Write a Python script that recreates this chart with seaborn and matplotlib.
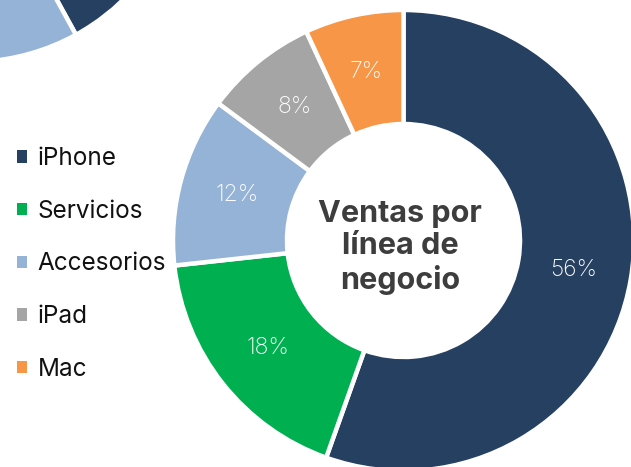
import matplotlib
matplotlib.use("Agg")
import matplotlib.pyplot as plt
import matplotlib.patches as mpatches
import seaborn as sns

# ---- data ----
categories = ["iPhone", "Servicios", "Accesorios", "iPad", "Mac"]
values = [56, 18, 12, 8, 7]
colors = ["#264061", "#00B050", "#95B3D7", "#A5A5A5", "#F79646"]
center_title = "Ventas por\nlínea de\nnegocio"
# partially visible neighbouring donut (cropped at top-left)
other_values = [42, 58]
other_colors = ["#264061", "#95B3D7"]

sns.set_theme(style="white")
plt.rcParams['font.family'] = ['Inter', 'DejaVu Sans']

W, H = 631, 467
fig = plt.figure(figsize=(W / 100, H / 100), dpi=100)
ax = fig.add_axes([0, 0, 1, 1])

total = sum(values)
R = 230.5
explode = [0.03, 0.015, 0, 0, 0]
wedges, texts, autotexts = ax.pie(
    values, colors=colors, startangle=90, counterclock=False,
    radius=R, center=(403.5, H - 240.5), explode=explode,
    wedgeprops=dict(width=114, edgecolor="white", linewidth=3.2),
    autopct=lambda p: f"{p * total / 100:.0f}%", pctdistance=0.75,
    textprops=dict(color="white", fontsize=16.5, fontweight="light"),
)

ax.pie(
    other_values, colors=other_colors, startangle=90, counterclock=False,
    radius=220, center=(-30, H + 158),
    wedgeprops=dict(width=110, edgecolor="white", linewidth=3.2),
)

ax.set_xlim(0, W)
ax.set_ylim(0, H)
ax.set_aspect("auto")
ax.axis("off")

ax.text(400, H - 247.5, center_title, ha="center", va="center", fontsize=22,
        fontweight="bold", color="#3d3d3d", linespacing=1.2)

handles = [mpatches.Patch(facecolor=c, edgecolor="none") for c in colors]
fig.legend(handles, categories, loc="center left",
           bbox_to_anchor=(17 / W, 1 - 264 / H), frameon=False, fontsize=17.5,
           handlelength=0.4, handleheight=0.4, handletextpad=0.45,
           labelspacing=1.22, borderpad=0, borderaxespad=0,
           labelcolor="#111111")

fig.savefig("out.png", dpi=100)
